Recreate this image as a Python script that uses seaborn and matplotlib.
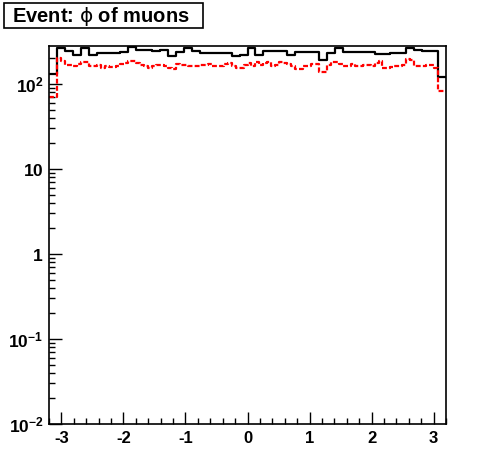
import numpy as np
import pandas as pd
import matplotlib
matplotlib.use("Agg")
import matplotlib.pyplot as plt
import seaborn as sns
from matplotlib.patches import Rectangle
from matplotlib.ticker import FixedLocator, MultipleLocator, NullFormatter

# histogram range, phi of muons
phi_lo, phi_hi = -3.2, 3.2

# all muons, 50 bins (black)
counts_all = [130, 268, 243, 217, 264, 219, 230, 230, 230, 235,
              272, 250, 250, 243, 250, 215, 238, 264, 243, 232,
              232, 232, 232, 211, 221, 264, 221, 243, 243, 243,
              221, 236, 236, 236, 190, 234, 264, 238, 238, 238,
              238, 228, 224, 229, 233, 264, 254, 243, 243, 120]

# selected muons, 100 bins (red, dashed)
counts_sel = [71, 71, 200, 184, 168, 168, 165, 174, 180, 180,
              163, 165, 168, 156, 162, 160, 160, 165, 170, 175,
              188, 188, 175, 168, 162, 153, 165, 168, 168, 165,
              156, 151, 170, 168, 168, 165, 165, 162, 168, 168,
              174, 162, 162, 162, 170, 175, 162, 153, 153, 168,
              175, 165, 180, 168, 175, 180, 165, 168, 180, 175,
              170, 165, 151, 151, 162, 165, 170, 170, 138, 138,
              168, 180, 180, 170, 165, 165, 170, 162, 162, 168,
              168, 162, 178, 184, 156, 156, 160, 162, 165, 168,
              198, 194, 165, 162, 162, 168, 168, 156, 82, 82]

y_ticks = [1e-2, 1e-1, 1, 10, 1e2]
y_labels = [r"$\mathbf{10^{-2}}$", r"$\mathbf{10^{-1}}$", r"$\mathbf{1}$",
            r"$\mathbf{10}$", r"$\mathbf{10^{2}}$"]
x_ticks = [-3, -2, -1, 0, 1, 2, 3]

sns.set_theme(style="white")
plt.rcParams["font.family"] = ["Liberation Sans", "DejaVu Sans"]
plt.rcParams["text.color"] = "black"
plt.rcParams["xtick.color"] = "black"
plt.rcParams["ytick.color"] = "black"
plt.rcParams["mathtext.fontset"] = "custom"
plt.rcParams["mathtext.rm"] = "DejaVu Sans"
plt.rcParams["mathtext.bf"] = "Liberation Sans:bold"
plt.rcParams["mathtext.it"] = "DejaVu Sans:italic"
plt.rcParams["mathtext.fallback"] = "stixsans"


def to_frame(counts):
    edges = np.linspace(phi_lo, phi_hi, len(counts) + 1)
    centers = 0.5 * (edges[:-1] + edges[1:])
    return pd.DataFrame({"phi": centers, "n": counts})


df_all = to_frame(counts_all)
df_sel = to_frame(counts_sel)

fig = plt.figure(figsize=(4.96, 4.72), dpi=100)
ax = fig.add_axes([49 / 496, 48 / 472, 397 / 496, 378 / 472])

sns.histplot(data=df_all, x="phi", weights="n", bins=len(counts_all),
             binrange=(phi_lo, phi_hi), element="step", fill=False,
             color="black", lw=1.6, ax=ax)
sns.histplot(data=df_sel, x="phi", weights="n", bins=len(counts_sel),
             binrange=(phi_lo, phi_hi), element="step", fill=False,
             color="#ff0000", lw=1.6, linestyle=(0, (2.2, 1.0)), ax=ax)

ax.set_yscale("log")
ax.set_xlim(phi_lo, phi_hi)
ax.set_ylim(1e-2, 280)
ax.set_xlabel("")
ax.set_ylabel("")

ax.xaxis.set_major_locator(FixedLocator(x_ticks))
ax.xaxis.set_minor_locator(MultipleLocator(0.2))
ax.set_xticklabels([str(t) for t in x_ticks], fontweight="bold")
ax.yaxis.set_major_locator(FixedLocator(y_ticks))
ax.set_yticklabels(y_labels)
ax.yaxis.set_minor_formatter(NullFormatter())

ax.tick_params(which="both", direction="in", top=False, right=False,
               bottom=True, left=True, color="black", width=1.0)
ax.tick_params(which="major", length=9)
ax.tick_params(which="minor", length=4.5)
ax.tick_params(axis="x", which="major", labelsize=12, pad=5,
               labelcolor="black")
ax.tick_params(axis="y", which="major", labelsize=12.5, pad=4,
               labelcolor="black")

for s in ax.spines.values():
    s.set_color("black")
    s.set_linewidth(1.2)
    s.set_visible(True)

# title box, ROOT style
fig.patches.append(Rectangle((4 / 496, 1 - 28 / 472), 199 / 496, 25 / 472,
                             transform=fig.transFigure, facecolor="white",
                             edgecolor="black", lw=1.2))
fig.text(12 / 496, 1 - 16 / 472, r"Event: $\mathrm{\phi}$ of muons",
         fontsize=14.5, fontweight="bold", va="center", ha="left",
         color="black")

fig.savefig("out.png", dpi=100, facecolor="white")
